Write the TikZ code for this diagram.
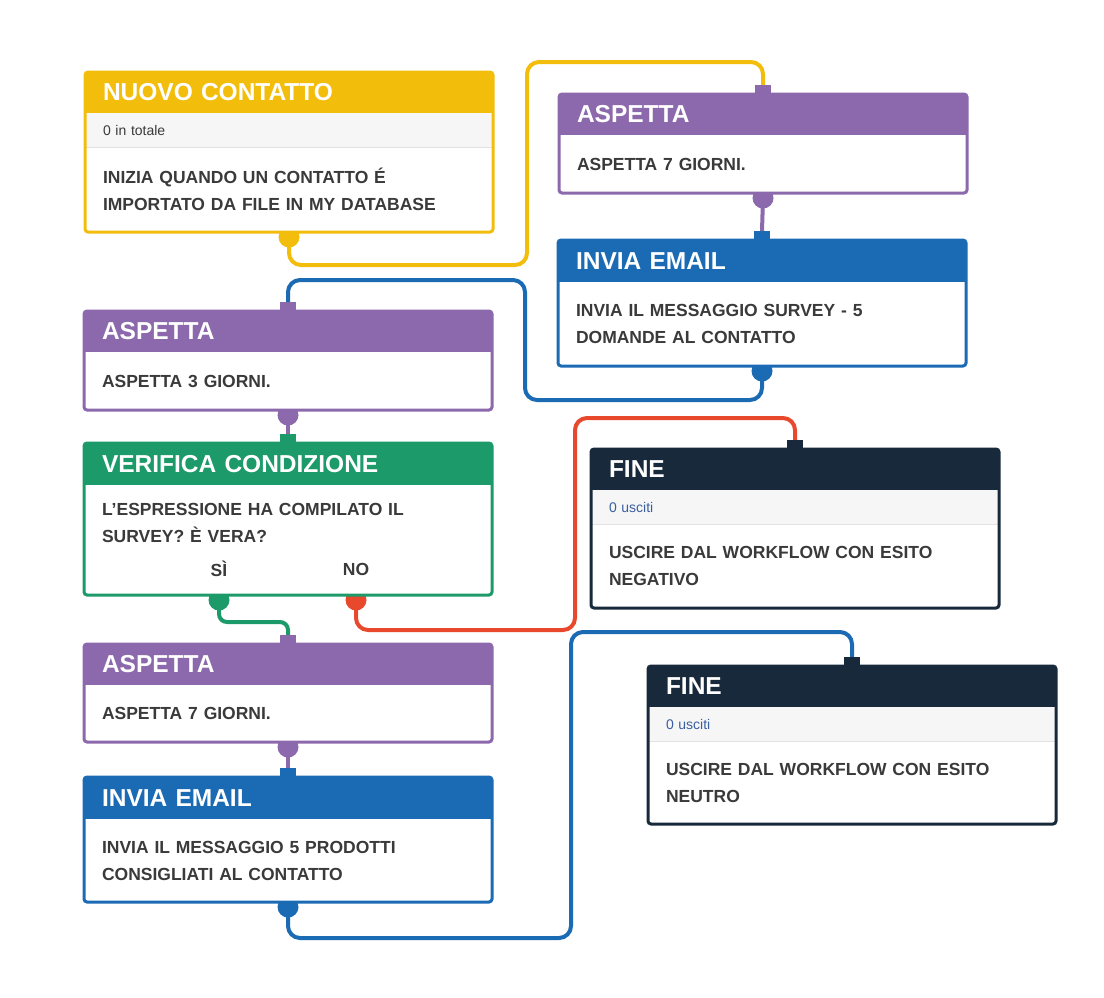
\documentclass[tikz,border=0pt]{standalone}
\usepackage{fontspec}
\setmainfont{Liberation Sans}
\usetikzlibrary{positioning,calc}
\pgfdeclarelayer{background}
\pgfsetlayers{background,main}
\definecolor{cYel}{HTML}{F3BD0C}
\definecolor{cPur}{HTML}{8C69AC}
\definecolor{cBlu}{HTML}{1B6AB4}
\definecolor{cGrn}{HTML}{1C9A6A}
\definecolor{cRed}{HTML}{E8482C}
\definecolor{cNav}{HTML}{17293A}
\definecolor{bodytext}{HTML}{3A3A3A}
\definecolor{subgray}{HTML}{F6F6F6}
\definecolor{subline}{HTML}{E2E2E2}
\definecolor{subblue}{HTML}{3A5FA0}

\begin{document}
\begin{tikzpicture}[x=1pt, y=-1pt,
    head/.style={fill=#1, text=white, anchor=north west, minimum height=41pt, text width=372pt, inner xsep=18pt, inner ysep=0pt, outer sep=0pt, align=left, font=\fontsize{24.5}{27}\selectfont\bfseries},
    sub/.style={fill=subgray, minimum height=34pt, text width=372pt, inner xsep=18pt, inner ysep=0pt, outer sep=0pt, align=left, text=#1, font=\fontsize{14}{16}\selectfont},
    body/.style={fill=white, minimum height=#1, text width=372pt, inner xsep=18pt, inner ysep=0pt, outer sep=0pt, align=left, text=bodytext, font=\fontsize{17.5}{27}\selectfont\bfseries},
    frame/.style={draw=#1, line width=3pt, rounded corners=3pt},
    tab/.style={fill=#1, anchor=south, minimum width=16pt, minimum height=9pt, inner sep=0pt, outer sep=0pt},
    dot/.style={circle, fill=#1, minimum size=21pt, inner sep=0pt},
    wire/.style={draw=#1, line width=4pt, rounded corners=12pt},
    yn/.style={text=bodytext, font=\fontsize{17.5}{20}\selectfont\bfseries, inner sep=0pt}]
    \useasboundingbox (0,0) rectangle (1104,997);

    \node[head=cYel]                           (nuovo)     at (85,72)  {NUOVO CONTATTO};
    \node[sub=bodytext, below=0pt of nuovo]    (nuovos)                {0 in totale};
    \node[body=85pt, below=0pt of nuovos]      (nuovob)                {INIZIA QUANDO UN CONTATTO É\\IMPORTATO DA FILE IN MY DATABASE};
    \draw[subline, line width=1pt] (nuovos.south west) -- (nuovos.south east);
    \draw[frame=cYel] (nuovo.north west) rectangle (nuovob.south east);

    \node[head=cPur]                           (aspetta1)  at (559,94) {ASPETTA};
    \node[body=58pt, below=0pt of aspetta1]    (aspetta1b)             {ASPETTA 7 GIORNI.};
    \draw[frame=cPur] (aspetta1.north west) rectangle (aspetta1b.south east);
    \node[tab=cPur] (aspetta1t) at (aspetta1.north) {};

    \node[head=cBlu, minimum height=42pt]      (invia1)    at (558,240) {INVIA EMAIL};
    \node[body=84pt, below=0pt of invia1]      (invia1b)               {INVIA IL MESSAGGIO SURVEY - 5\\DOMANDE AL CONTATTO};
    \draw[frame=cBlu] (invia1.north west) rectangle (invia1b.south east);
    \node[tab=cBlu] (invia1t) at (invia1.north) {};

    \node[head=cPur]                           (aspetta2)  at (84,311) {ASPETTA};
    \node[body=58pt, below=0pt of aspetta2]    (aspetta2b)             {ASPETTA 3 GIORNI.};
    \draw[frame=cPur] (aspetta2.north west) rectangle (aspetta2b.south east);
    \node[tab=cPur] (aspetta2t) at (aspetta2.north) {};

    \node[head=cGrn, minimum height=42pt]      (verifica)  at (84,443) {VERIFICA CONDIZIONE};
    \node[body=110pt, below=0pt of verifica]   (verificab)             {L'ESPRESSIONE HA COMPILATO IL\\SURVEY? È VERA?\\\strut};
    \draw[frame=cGrn] (verifica.north west) rectangle (verificab.south east);
    \node[tab=cGrn] (verificat) at (verifica.north) {};
    \node[yn] (si) at (219,569) {SÌ};
    \node[yn] (no) at (356,569) {NO};

    \node[head=cNav]                           (fine1)     at (591,449) {FINE};
    \node[sub=subblue, below=0pt of fine1]     (fine1s)                {0 usciti};
    \node[body=84pt, below=0pt of fine1s]      (fine1b)                {USCIRE DAL WORKFLOW CON ESITO\\NEGATIVO};
    \draw[subline, line width=1pt] (fine1s.south west) -- (fine1s.south east);
    \draw[frame=cNav] (fine1.north west) rectangle (fine1b.south east);
    \node[tab=cNav] (fine1t) at (fine1.north) {};

    \node[head=cPur]                           (aspetta3)  at (84,644) {ASPETTA};
    \node[body=57pt, below=0pt of aspetta3]    (aspetta3b)             {ASPETTA 7 GIORNI.};
    \draw[frame=cPur] (aspetta3.north west) rectangle (aspetta3b.south east);
    \node[tab=cPur] (aspetta3t) at (aspetta3.north) {};

    \node[head=cBlu, minimum height=42pt]      (invia2)    at (84,777) {INVIA EMAIL};
    \node[body=83pt, below=0pt of invia2]      (invia2b)               {INVIA IL MESSAGGIO 5 PRODOTTI\\CONSIGLIATI AL CONTATTO};
    \draw[frame=cBlu] (invia2.north west) rectangle (invia2b.south east);
    \node[tab=cBlu] (invia2t) at (invia2.north) {};

    \node[head=cNav]                           (fine2)     at (648,666) {FINE};
    \node[sub=subblue, below=0pt of fine2]     (fine2s)                {0 usciti};
    \node[body=83pt, below=0pt of fine2s]      (fine2b)                {USCIRE DAL WORKFLOW CON ESITO\\NEUTRO};
    \draw[subline, line width=1pt] (fine2s.south west) -- (fine2s.south east);
    \draw[frame=cNav] (fine2.north west) rectangle (fine2b.south east);
    \node[tab=cNav] (fine2t) at (fine2.north) {};

    \coordinate (yel1) at (527,265);
    \coordinate (yel2) at (527,62);
    \coordinate (blu1) at (525,400);
    \coordinate (blu2) at (525,280);
    \coordinate (grn1) at (250,622);
    \coordinate (red1) at (575,630);
    \coordinate (red2) at (575,418);
    \coordinate (blu3) at (571,938);
    \coordinate (blu4) at (571,632);

    \begin{pgfonlayer}{background}
    \node[dot=cYel] (nuovod)    at ($(nuovob.south)+(0,5)$)    {};
    \node[dot=cPur] (aspetta1d) at ($(aspetta1b.south)+(0,5)$) {};
    \node[dot=cBlu] (invia1d)   at ($(invia1b.south)+(0,5)$)   {};
    \node[dot=cPur] (aspetta2d) at ($(aspetta2b.south)+(0,5)$) {};
    \node[dot=cGrn] (sid)       at ($(si |- verificab.south)+(0,5)$) {};
    \node[dot=cRed] (nod)       at ($(no |- verificab.south)+(0,5)$) {};
    \node[dot=cPur] (aspetta3d) at ($(aspetta3b.south)+(0,5)$) {};
    \node[dot=cBlu] (invia2d)   at ($(invia2b.south)+(0,5)$)   {};

    \draw[wire=cYel] (nuovod.center) |- (yel1) -- (yel2) -| (aspetta1t.north);
    \draw[wire=cPur] (aspetta1d.center) -- (invia1t.north);
    \draw[wire=cBlu] (invia1d.center) |- (blu1) -- (blu2) -| (aspetta2t.north);
    \draw[wire=cPur] (aspetta2d.center) -- (verificat.north);
    \draw[wire=cGrn, rounded corners=8pt] (sid.center) |- (grn1) -| (aspetta3t.north);
    \draw[wire=cRed] (nod.center) |- (red1) -- (red2) -| (fine1t.north);
    \draw[wire=cPur] (aspetta3d.center) -- (invia2t.north);
    \draw[wire=cBlu] (invia2d.center) |- (blu3) -- (blu4) -| (fine2t.north);
    \end{pgfonlayer}
\end{tikzpicture}
\end{document}
